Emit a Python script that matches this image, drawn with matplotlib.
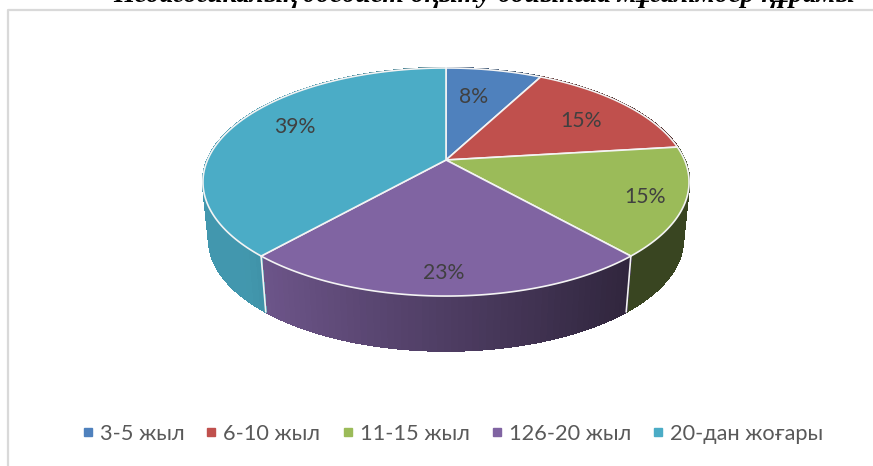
import numpy as np
import matplotlib
matplotlib.use('Agg')
import matplotlib.pyplot as plt
from matplotlib.collections import PolyCollection
from matplotlib.lines import Line2D
from matplotlib.patches import Polygon

# data
categories = ['3-5 жыл', '6-10 жыл', '11-15 жыл', '126-20 жыл', '20-дан жоғары']
shares = [7.7, 15.4, 15.4, 23.1, 38.5]
share_labels = ['8%', '15%', '15%', '23%', '39%']
colors = ['#4F81BD', '#C0504D', '#9BBB59', '#8064A2', '#4BACC6']
title = 'Педагогикалық әдебиет оқыту бойынша мұғалімдер құрамы'

# pie geometry in pixels, the tilt is a simple perspective
cx, cy = 446, 160
rx, ry, k = 238.5, 109.8, 0.193
depth, shrink = 58, 0.975


def project(theta, r=1.0):
    """theta is clockwise from the top, in radians"""
    u = r * np.sin(theta)
    v = r * np.cos(theta)
    w = 1 + k * v
    return cx + rx * u / w, cy - ry * v / w


def projectBottom(theta):
    x, y = project(theta)
    return cx + shrink * (x - cx), cy + shrink * (y - cy) + depth


def sideShade(theta):
    # left of the side wall is lit, the right goes dark
    return np.clip(0.61 - 0.36 * np.sin(theta), 0.37, 0.88)


fig = plt.figure(figsize=(8.73, 4.66), dpi=100)
ax = fig.add_axes([0, 0, 1, 1])
ax.set_xlim(0, 873)
ax.set_ylim(466, 0)
ax.axis('off')

# chart frame
ax.plot([7.5, 7.5, 873], [466, 9.5, 9.5], color='#d9d9d9', lw=1.6, solid_capstyle='butt')

edges = 2 * np.pi * np.concatenate([[0], np.cumsum(shares)]) / np.sum(shares)

# side wall
strips = []
strip_colors = []
for i in range(len(shares)):
    steps = np.linspace(edges[i], edges[i + 1], 60)
    base = np.array(matplotlib.colors.to_rgb(colors[i]))
    for a, b in zip(steps[:-1], steps[1:]):
        x1, y1 = project(a)
        x2, y2 = project(b)
        x3, y3 = projectBottom(b)
        x4, y4 = projectBottom(a)
        strips.append([(x1, y1), (x2, y2), (x3, y3), (x4, y4)])
        strip_colors.append(base * sideShade((a + b) / 2))
ax.add_collection(PolyCollection(strips, facecolors=strip_colors, edgecolors=strip_colors,
                                 linewidths=1.0, antialiaseds=False))

# white seams on the visible side
for e in edges[:-1]:
    if np.cos(e) < 0:
        x1, y1 = project(e)
        x2, y2 = projectBottom(e)
        ax.plot([x1, x2], [y1, y2], color='#f2f2f2', lw=1.2)

# top of the pie
for i in range(len(shares)):
    steps = np.linspace(edges[i], edges[i + 1], 120)
    xs, ys = project(steps)
    pts = np.column_stack([np.r_[cx, xs], np.r_[cy, ys]])
    ax.add_patch(Polygon(pts, closed=True, facecolor=colors[i], edgecolor='#f4f4f4', lw=1.2))

# data labels
label_pos = [(474, 97), (581, 121), (645, 197), (444, 273), (295, 127)]
for text, (lx, ly) in zip(share_labels, label_pos):
    ax.text(lx, ly, text, ha='center', va='center', color='#404040', fontsize=15.2, family='Lato')

# title is cut by the top of the page
ax.text(484, 2, title, ha='center', va='baseline', fontsize=19.8, family='Liberation Serif',
        weight='bold', style='italic', color='black')

handles = [Line2D([], [], linestyle='none', marker='s', markersize=6, color=c) for c in colors]
ax.legend(handles, categories, loc='center', bbox_to_anchor=(450 / 873, 1 - 434 / 466), ncol=5,
          frameon=False, handletextpad=0.05, columnspacing=0.75, handlelength=1.0,
          prop={'family': 'Lato', 'size': 15.7}, labelcolor='#595959')

fig.savefig('out.png', dpi=100)
